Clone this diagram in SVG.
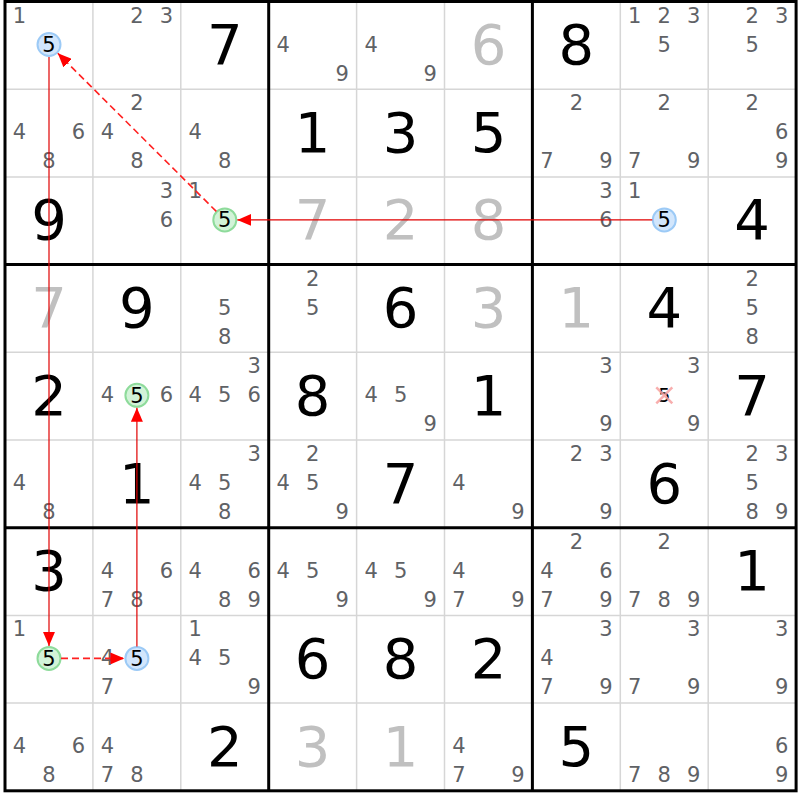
<svg xmlns="http://www.w3.org/2000/svg" width="800" height="800" viewBox="0 0 800 800">
<style>
.c{font-family:"DejaVu Sans","Liberation Sans",sans-serif;font-size:21px;fill:#5f6266;text-anchor:middle}
.g{font-family:"DejaVu Sans","Liberation Sans",sans-serif;font-size:56px;fill:#000;text-anchor:middle}
.s{font-family:"DejaVu Sans","Liberation Sans",sans-serif;font-size:56px;fill:#c0c0c0;text-anchor:middle}
.h{font-family:"DejaVu Sans","Liberation Sans",sans-serif;font-size:21px;fill:#000;text-anchor:middle}
.thin{stroke:#d6d6d6;stroke-width:1.5}
.thick{stroke:#000;stroke-width:3}
.blue{fill:#d2e6fc;stroke:#9ccaf6;stroke-width:2}
.green{fill:#d2f3d8;stroke:#8edb9b;stroke-width:2}
.strong{stroke:#e00000;stroke-width:1.2;fill:none}
.weak{stroke:#ff2020;stroke-width:1.6;fill:none;stroke-dasharray:7 4}
</style>
<defs>
<marker id="ah" markerUnits="userSpaceOnUse" markerWidth="14" markerHeight="12" refX="14" refY="6" orient="auto">
<path d="M0,0 L14,6 L0,12 z" fill="#ff0000"/>
</marker>
</defs>
<rect x="0" y="0" width="800" height="800" fill="#fff"/>
<g id="grid">
<g class="thin">
<line x1="92.9" y1="1.5" x2="92.9" y2="790.8"/>
<line x1="180.8" y1="1.5" x2="180.8" y2="790.8"/>
<line x1="356.6" y1="1.5" x2="356.6" y2="790.8"/>
<line x1="444.5" y1="1.5" x2="444.5" y2="790.8"/>
<line x1="620.3" y1="1.5" x2="620.3" y2="790.8"/>
<line x1="708.2" y1="1.5" x2="708.2" y2="790.8"/>
<line x1="5" y1="89.2" x2="796.1" y2="89.2"/>
<line x1="5" y1="176.9" x2="796.1" y2="176.9"/>
<line x1="5" y1="352.3" x2="796.1" y2="352.3"/>
<line x1="5" y1="440" x2="796.1" y2="440"/>
<line x1="5" y1="615.4" x2="796.1" y2="615.4"/>
<line x1="5" y1="703.1" x2="796.1" y2="703.1"/>
</g>
<g class="thick">
<line x1="268.7" y1="1.5" x2="268.7" y2="790.8"/>
<line x1="532.4" y1="1.5" x2="532.4" y2="790.8"/>
<line x1="5" y1="264.6" x2="796.1" y2="264.6"/>
<line x1="5" y1="527.7" x2="796.1" y2="527.7"/>
<rect x="5" y="1.5" width="791.1" height="789.3" fill="none"/>
</g>
</g>

<g id="r0c0" transform="translate(5,1.5)"><text class="c" x="14.5" y="21">1</text><circle class="blue" cx="44" cy="43" r="11.5"/><text class="h" x="44" y="50.5">5</text></g>
<g id="r0c1" transform="translate(92.9,1.5)"><text class="c" x="44" y="21">2</text><text class="c" x="73.5" y="21">3</text></g>
<g id="r0c2" transform="translate(180.8,1.5)"><text class="g" x="44" y="62.5">7</text></g>
<g id="r0c3" transform="translate(268.7,1.5)"><text class="c" x="14.5" y="50">4</text><text class="c" x="73.5" y="79">9</text></g>
<g id="r0c4" transform="translate(356.6,1.5)"><text class="c" x="14.5" y="50">4</text><text class="c" x="73.5" y="79">9</text></g>
<g id="r0c5" transform="translate(444.5,1.5)"><text class="s" x="44" y="62.5">6</text></g>
<g id="r0c6" transform="translate(532.4,1.5)"><text class="g" x="44" y="62.5">8</text></g>
<g id="r0c7" transform="translate(620.3,1.5)"><text class="c" x="14.5" y="21">1</text><text class="c" x="44" y="21">2</text><text class="c" x="73.5" y="21">3</text><text class="c" x="44" y="50">5</text></g>
<g id="r0c8" transform="translate(708.2,1.5)"><text class="c" x="44" y="21">2</text><text class="c" x="73.5" y="21">3</text><text class="c" x="44" y="50">5</text></g>

<g id="r1c0" transform="translate(5,89.2)"><text class="c" x="14.5" y="50">4</text><text class="c" x="73.5" y="50">6</text><text class="c" x="44" y="79">8</text></g>
<g id="r1c1" transform="translate(92.9,89.2)"><text class="c" x="44" y="21">2</text><text class="c" x="14.5" y="50">4</text><text class="c" x="44" y="79">8</text></g>
<g id="r1c2" transform="translate(180.8,89.2)"><text class="c" x="14.5" y="50">4</text><text class="c" x="44" y="79">8</text></g>
<g id="r1c3" transform="translate(268.7,89.2)"><text class="g" x="44" y="62.5">1</text></g>
<g id="r1c4" transform="translate(356.6,89.2)"><text class="g" x="44" y="62.5">3</text></g>
<g id="r1c5" transform="translate(444.5,89.2)"><text class="g" x="44" y="62.5">5</text></g>
<g id="r1c6" transform="translate(532.4,89.2)"><text class="c" x="44" y="21">2</text><text class="c" x="14.5" y="79">7</text><text class="c" x="73.5" y="79">9</text></g>
<g id="r1c7" transform="translate(620.3,89.2)"><text class="c" x="44" y="21">2</text><text class="c" x="14.5" y="79">7</text><text class="c" x="73.5" y="79">9</text></g>
<g id="r1c8" transform="translate(708.2,89.2)"><text class="c" x="44" y="21">2</text><text class="c" x="73.5" y="50">6</text><text class="c" x="73.5" y="79">9</text></g>

<g id="r2c0" transform="translate(5,176.9)"><text class="g" x="44" y="62.5">9</text></g>
<g id="r2c1" transform="translate(92.9,176.9)"><text class="c" x="73.5" y="21">3</text><text class="c" x="73.5" y="50">6</text></g>
<g id="r2c2" transform="translate(180.8,176.9)"><text class="c" x="14.5" y="21">1</text><circle class="green" cx="44" cy="43" r="11.5"/><text class="h" x="44" y="50.5">5</text></g>
<g id="r2c3" transform="translate(268.7,176.9)"><text class="s" x="44" y="62.5">7</text></g>
<g id="r2c4" transform="translate(356.6,176.9)"><text class="s" x="44" y="62.5">2</text></g>
<g id="r2c5" transform="translate(444.5,176.9)"><text class="s" x="44" y="62.5">8</text></g>
<g id="r2c6" transform="translate(532.4,176.9)"><text class="c" x="73.5" y="21">3</text><text class="c" x="73.5" y="50">6</text></g>
<g id="r2c7" transform="translate(620.3,176.9)"><text class="c" x="14.5" y="21">1</text><circle class="blue" cx="44" cy="43" r="11.5"/><text class="h" x="44" y="50.5">5</text></g>
<g id="r2c8" transform="translate(708.2,176.9)"><text class="g" x="44" y="62.5">4</text></g>

<g id="r3c0" transform="translate(5,264.6)"><text class="s" x="44" y="62.5">7</text></g>
<g id="r3c1" transform="translate(92.9,264.6)"><text class="g" x="44" y="62.5">9</text></g>
<g id="r3c2" transform="translate(180.8,264.6)"><text class="c" x="44" y="50">5</text><text class="c" x="44" y="79">8</text></g>
<g id="r3c3" transform="translate(268.7,264.6)"><text class="c" x="44" y="21">2</text><text class="c" x="44" y="50">5</text></g>
<g id="r3c4" transform="translate(356.6,264.6)"><text class="g" x="44" y="62.5">6</text></g>
<g id="r3c5" transform="translate(444.5,264.6)"><text class="s" x="44" y="62.5">3</text></g>
<g id="r3c6" transform="translate(532.4,264.6)"><text class="s" x="44" y="62.5">1</text></g>
<g id="r3c7" transform="translate(620.3,264.6)"><text class="g" x="44" y="62.5">4</text></g>
<g id="r3c8" transform="translate(708.2,264.6)"><text class="c" x="44" y="21">2</text><text class="c" x="44" y="50">5</text><text class="c" x="44" y="79">8</text></g>

<g id="r4c0" transform="translate(5,352.3)"><text class="g" x="44" y="62.5">2</text></g>
<g id="r4c1" transform="translate(92.9,352.3)"><text class="c" x="14.5" y="50">4</text><circle class="green" cx="44" cy="43" r="11.5"/><text class="h" x="44" y="50.5">5</text><text class="c" x="73.5" y="50">6</text></g>
<g id="r4c2" transform="translate(180.8,352.3)"><text class="c" x="73.5" y="21">3</text><text class="c" x="14.5" y="50">4</text><text class="c" x="44" y="50">5</text><text class="c" x="73.5" y="50">6</text></g>
<g id="r4c3" transform="translate(268.7,352.3)"><text class="g" x="44" y="62.5">8</text></g>
<g id="r4c4" transform="translate(356.6,352.3)"><text class="c" x="14.5" y="50">4</text><text class="c" x="44" y="50">5</text><text class="c" x="73.5" y="79">9</text></g>
<g id="r4c5" transform="translate(444.5,352.3)"><text class="g" x="44" y="62.5">1</text></g>
<g id="r4c6" transform="translate(532.4,352.3)"><text class="c" x="73.5" y="21">3</text><text class="c" x="73.5" y="79">9</text></g>
<g id="r4c7" transform="translate(620.3,352.3)"><text class="c" x="73.5" y="21">3</text><text class="h" x="44" y="50" style="font-size:19px">5</text><path d="M36,35 L52,51 M52,35 L36,51" stroke="#f7a0a0" stroke-width="2.5" stroke-opacity="0.85" fill="none"/><text class="c" x="73.5" y="79">9</text></g>
<g id="r4c8" transform="translate(708.2,352.3)"><text class="g" x="44" y="62.5">7</text></g>

<g id="r5c0" transform="translate(5,440)"><text class="c" x="14.5" y="50">4</text><text class="c" x="44" y="79">8</text></g>
<g id="r5c1" transform="translate(92.9,440)"><text class="g" x="44" y="62.5">1</text></g>
<g id="r5c2" transform="translate(180.8,440)"><text class="c" x="73.5" y="21">3</text><text class="c" x="14.5" y="50">4</text><text class="c" x="44" y="50">5</text><text class="c" x="44" y="79">8</text></g>
<g id="r5c3" transform="translate(268.7,440)"><text class="c" x="44" y="21">2</text><text class="c" x="14.5" y="50">4</text><text class="c" x="44" y="50">5</text><text class="c" x="73.5" y="79">9</text></g>
<g id="r5c4" transform="translate(356.6,440)"><text class="g" x="44" y="62.5">7</text></g>
<g id="r5c5" transform="translate(444.5,440)"><text class="c" x="14.5" y="50">4</text><text class="c" x="73.5" y="79">9</text></g>
<g id="r5c6" transform="translate(532.4,440)"><text class="c" x="44" y="21">2</text><text class="c" x="73.5" y="21">3</text><text class="c" x="73.5" y="79">9</text></g>
<g id="r5c7" transform="translate(620.3,440)"><text class="g" x="44" y="62.5">6</text></g>
<g id="r5c8" transform="translate(708.2,440)"><text class="c" x="44" y="21">2</text><text class="c" x="73.5" y="21">3</text><text class="c" x="44" y="50">5</text><text class="c" x="44" y="79">8</text><text class="c" x="73.5" y="79">9</text></g>

<g id="r6c0" transform="translate(5,527.7)"><text class="g" x="44" y="62.5">3</text></g>
<g id="r6c1" transform="translate(92.9,527.7)"><text class="c" x="14.5" y="50">4</text><text class="c" x="73.5" y="50">6</text><text class="c" x="14.5" y="79">7</text><text class="c" x="44" y="79">8</text></g>
<g id="r6c2" transform="translate(180.8,527.7)"><text class="c" x="14.5" y="50">4</text><text class="c" x="73.5" y="50">6</text><text class="c" x="44" y="79">8</text><text class="c" x="73.5" y="79">9</text></g>
<g id="r6c3" transform="translate(268.7,527.7)"><text class="c" x="14.5" y="50">4</text><text class="c" x="44" y="50">5</text><text class="c" x="73.5" y="79">9</text></g>
<g id="r6c4" transform="translate(356.6,527.7)"><text class="c" x="14.5" y="50">4</text><text class="c" x="44" y="50">5</text><text class="c" x="73.5" y="79">9</text></g>
<g id="r6c5" transform="translate(444.5,527.7)"><text class="c" x="14.5" y="50">4</text><text class="c" x="14.5" y="79">7</text><text class="c" x="73.5" y="79">9</text></g>
<g id="r6c6" transform="translate(532.4,527.7)"><text class="c" x="44" y="21">2</text><text class="c" x="14.5" y="50">4</text><text class="c" x="73.5" y="50">6</text><text class="c" x="14.5" y="79">7</text><text class="c" x="73.5" y="79">9</text></g>
<g id="r6c7" transform="translate(620.3,527.7)"><text class="c" x="44" y="21">2</text><text class="c" x="14.5" y="79">7</text><text class="c" x="44" y="79">8</text><text class="c" x="73.5" y="79">9</text></g>
<g id="r6c8" transform="translate(708.2,527.7)"><text class="g" x="44" y="62.5">1</text></g>

<g id="r7c0" transform="translate(5,615.4)"><text class="c" x="14.5" y="21">1</text><circle class="green" cx="44" cy="43" r="11.5"/><text class="h" x="44" y="50.5">5</text></g>
<g id="r7c1" transform="translate(92.9,615.4)"><text class="c" x="14.5" y="50">4</text><circle class="blue" cx="44" cy="43" r="11.5"/><text class="h" x="44" y="50.5">5</text><text class="c" x="14.5" y="79">7</text></g>
<g id="r7c2" transform="translate(180.8,615.4)"><text class="c" x="14.5" y="21">1</text><text class="c" x="14.5" y="50">4</text><text class="c" x="44" y="50">5</text><text class="c" x="73.5" y="79">9</text></g>
<g id="r7c3" transform="translate(268.7,615.4)"><text class="g" x="44" y="62.5">6</text></g>
<g id="r7c4" transform="translate(356.6,615.4)"><text class="g" x="44" y="62.5">8</text></g>
<g id="r7c5" transform="translate(444.5,615.4)"><text class="g" x="44" y="62.5">2</text></g>
<g id="r7c6" transform="translate(532.4,615.4)"><text class="c" x="73.5" y="21">3</text><text class="c" x="14.5" y="50">4</text><text class="c" x="14.5" y="79">7</text><text class="c" x="73.5" y="79">9</text></g>
<g id="r7c7" transform="translate(620.3,615.4)"><text class="c" x="73.5" y="21">3</text><text class="c" x="14.5" y="79">7</text><text class="c" x="73.5" y="79">9</text></g>
<g id="r7c8" transform="translate(708.2,615.4)"><text class="c" x="73.5" y="21">3</text><text class="c" x="73.5" y="79">9</text></g>

<g id="r8c0" transform="translate(5,703.1)"><text class="c" x="14.5" y="50">4</text><text class="c" x="73.5" y="50">6</text><text class="c" x="44" y="79">8</text></g>
<g id="r8c1" transform="translate(92.9,703.1)"><text class="c" x="14.5" y="50">4</text><text class="c" x="14.5" y="79">7</text><text class="c" x="44" y="79">8</text></g>
<g id="r8c2" transform="translate(180.8,703.1)"><text class="g" x="44" y="62.5">2</text></g>
<g id="r8c3" transform="translate(268.7,703.1)"><text class="s" x="44" y="62.5">3</text></g>
<g id="r8c4" transform="translate(356.6,703.1)"><text class="s" x="44" y="62.5">1</text></g>
<g id="r8c5" transform="translate(444.5,703.1)"><text class="c" x="14.5" y="50">4</text><text class="c" x="14.5" y="79">7</text><text class="c" x="73.5" y="79">9</text></g>
<g id="r8c6" transform="translate(532.4,703.1)"><text class="g" x="44" y="62.5">5</text></g>
<g id="r8c7" transform="translate(620.3,703.1)"><text class="c" x="14.5" y="79">7</text><text class="c" x="44" y="79">8</text><text class="c" x="73.5" y="79">9</text></g>
<g id="r8c8" transform="translate(708.2,703.1)"><text class="c" x="73.5" y="50">6</text><text class="c" x="73.5" y="79">9</text></g>

<g id="connectors">
<line class="weak" x1="216.3" y1="211.4" x2="57.8" y2="53.3" marker-end="url(#ah)"/>
<line class="strong" x1="652.3" y1="219.9" x2="237.3" y2="219.9" marker-end="url(#ah)"/>
<line class="strong" x1="49" y1="57" x2="49" y2="645.9" marker-end="url(#ah)"/>
<line class="weak" x1="61" y1="658.4" x2="124.4" y2="658.4" marker-end="url(#ah)"/>
<line class="strong" x1="136.9" y1="646.4" x2="136.9" y2="407.8" marker-end="url(#ah)"/>
</g>
</svg>
